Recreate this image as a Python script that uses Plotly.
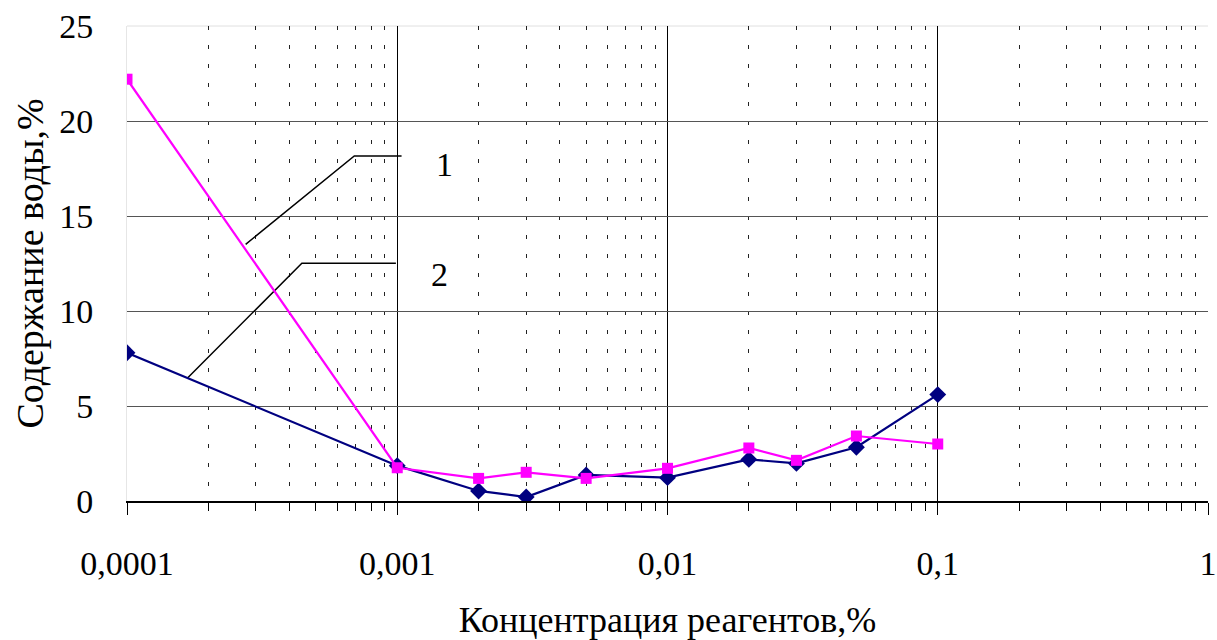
import plotly.graph_objects as go

conc = [0.0001, 0.001, 0.002, 0.003, 0.005, 0.01, 0.02, 0.03, 0.05, 0.1]
series1 = [7.8, 1.86, 0.53, 0.21, 1.37, 1.23, 2.19, 1.98, 2.83, 5.6]
series2 = [22.2, 1.75, 1.19, 1.51, 1.19, 1.72, 2.79, 2.14, 3.42, 3.0]

x_ticks = [0.0001, 0.001, 0.01, 0.1, 1]
x_ticklabels = ["0,0001", "0,001", "0,01", "0,1", "1"]
y_ticks = [0, 5, 10, 15, 20, 25]

# leader lines for labels "1" and "2"
leader1_x = [10 ** -3.561, 10 ** -3.159, 10 ** -2.984]
leader1_y = [13.51, 18.16, 18.16]
leader2_x = [10 ** -3.777, 10 ** -3.353, 10 ** -3.005]
leader2_y = [6.46, 12.51, 12.51]
labels = ["1", "2"]
label_logx = [-2.824, -2.842]   # annotation x on a log axis is given in log10 units
label_y = [17.7, 11.9]

font = "Liberation Serif, Times New Roman, serif"

fig = go.Figure()
fig.add_trace(go.Scatter(x=leader1_x, y=leader1_y, mode="lines",
                         line=dict(color="black", width=1.5), hoverinfo="skip"))
fig.add_trace(go.Scatter(x=leader2_x, y=leader2_y, mode="lines",
                         line=dict(color="black", width=1.5), hoverinfo="skip"))
fig.add_trace(go.Scatter(x=conc, y=series1, mode="lines+markers",
                         line=dict(color="#000080", width=2.2),
                         marker=dict(symbol="diamond", size=13, color="#000080")))
fig.add_trace(go.Scatter(x=conc, y=series2, mode="lines+markers",
                         line=dict(color="#FF00FF", width=2.2),
                         marker=dict(symbol="square", size=11, color="#FF00FF")))

for t, lx, ly in zip(labels, label_logx, label_y):
    fig.add_annotation(x=lx, y=ly, xref="x", yref="y", text=t, showarrow=False,
                       font=dict(family=font, size=34, color="black"))

# light frame line along the top of the plot area
fig.add_shape(type="line", xref="paper", yref="paper", x0=0, x1=1, y0=1, y1=1,
              line=dict(color="#e0e0e0", width=1), layer="below")

fig.update_layout(
    width=1217, height=640,
    margin=dict(l=127, r=9, t=26, b=139),
    paper_bgcolor="white", plot_bgcolor="white",
    showlegend=False,
    font=dict(family=font, size=34, color="black"),
)
fig.update_xaxes(
    type="log", range=[-4, 0], automargin=False,
    tickvals=x_ticks, ticktext=x_ticklabels,
    ticks="outside", ticklen=12, tickcolor="black", tickwidth=1,
    showline=True, linecolor="black", linewidth=1.5,
    showgrid=True, gridcolor="black", gridwidth=1,
    ticklabelstandoff=19, ticklabeloverflow="allow",
    tickfont=dict(family=font, size=34),
    minor=dict(dtick="D1", ticks="outside", ticklen=8, tickcolor="black",
               showgrid=True, gridcolor="#222222", gridwidth=1, griddash="4px,15px"),
    title=dict(text="Концентрация реагентов,%", font=dict(family=font, size=36), standoff=28),
)
fig.update_yaxes(
    range=[0, 25], tickvals=y_ticks, automargin=False,
    ticks="", showline=True, linecolor="#e6e6e6", linewidth=1,
    showgrid=True, gridcolor="#555555", gridwidth=1,
    zeroline=False,
    ticklabelstandoff=26, ticklabeloverflow="allow",
    tickfont=dict(family=font, size=34),
    title=dict(text="Содержание воды,%", font=dict(family=font, size=38), standoff=3),
)

# remove the default 8px page margin so the figure fills the window exactly
fig.write_html("out.html", config={"displayModeBar": False},
               post_script="document.body.style.margin='0';document.body.style.overflow='hidden';")
